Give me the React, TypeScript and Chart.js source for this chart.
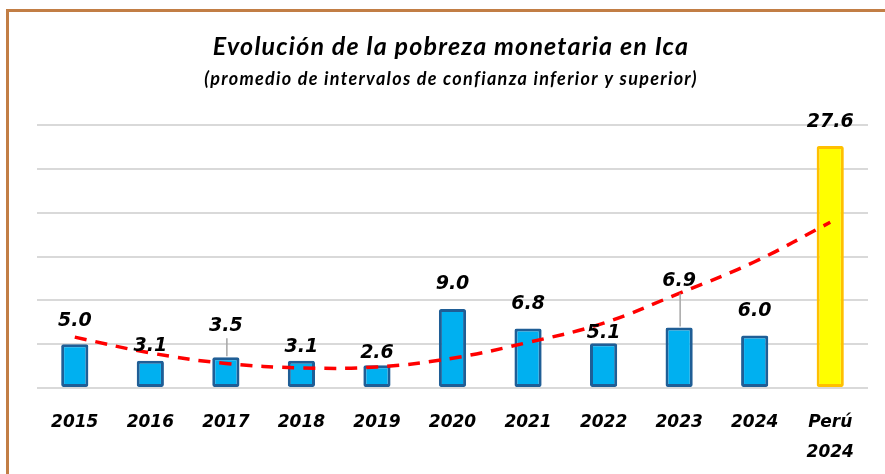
import React, { useEffect, useRef } from "react";
import { Chart, registerables } from "chart.js";

Chart.register(...registerables);

const categories: (string | string[])[] = ["2015", "2016", "2017", "2018", "2019", "2020", "2021", "2022", "2023", "2024", ["Perú", "2024"]];
const povertyValues = [5.0, 3.1, 3.5, 3.1, 2.6, 9.0, 6.8, 5.1, 6.9, 6.0, 27.6];
const trendValues = [5.8, 4.0, 2.8, 2.3, 2.4, 3.4, 5.2, 7.4, 10.8, 14.4, 18.9];
const labelLift = [23, 15, 31, 14, 12, 25, 24, 10, 46, 24, 24];
const titleText = "Evolución de la pobreza monetaria en Ica";
const subtitleText = "(promedio de intervalos de confianza inferior y superior)";

const barFill = povertyValues.map((_, i) => (i === povertyValues.length - 1 ? "#FFFF00" : "#00B0F0"));
const barBorder = povertyValues.map((_, i) => (i === povertyValues.length - 1 ? "#FFC000" : "#1F5E96"));

const labelPlugin = {
  id: "customLabels",
  afterDatasetsDraw(chart: any) {
    const ctx = chart.ctx;
    const meta = chart.getDatasetMeta(0);
    ctx.save();
    meta.data.forEach((bar: any, i: number) => {
      const lift = labelLift[i];
      const y = bar.y - lift;
      if (lift > 28) {
        ctx.strokeStyle = "#A6A6A6";
        ctx.lineWidth = 1.5;
        ctx.beginPath();
        ctx.moveTo(bar.x + 1, y + 12);
        ctx.lineTo(bar.x + 1, bar.y - 1);
        ctx.stroke();
      }
      ctx.fillStyle = "#000";
      ctx.font = "italic bold 19px 'DejaVu Sans'";
      ctx.textAlign = "center";
      ctx.textBaseline = "middle";
      ctx.fillText(povertyValues[i].toFixed(1), bar.x, y);
    });
    ctx.restore();
  },
  afterDraw(chart: any) {
    const ctx = chart.ctx;
    ctx.save();
    ctx.fillStyle = "#000";
    ctx.textAlign = "center";
    ctx.textBaseline = "middle";
    ctx.font = "italic bold 25px Lato";
    (ctx as any).letterSpacing = "1.2px";
    ctx.fillText(titleText, 451, 47);
    ctx.font = "italic bold 18px Lato";
    (ctx as any).letterSpacing = "1.3px";
    ctx.fillText(subtitleText, 451, 79);
    ctx.restore();
  },
};

export default function App() {
  const ref = useRef<HTMLCanvasElement>(null);
  useEffect(() => {
    if (!ref.current) return;
    const chart = new Chart(ref.current, {
      type: "bar",
      data: {
        labels: categories,
        datasets: [
          {
            type: "bar",
            data: povertyValues,
            backgroundColor: barFill,
            borderColor: barBorder,
            borderWidth: 3,
            borderRadius: 2,
            borderSkipped: false,
            barPercentage: 0.36,
            categoryPercentage: 1,
            order: 1,
          },
          {
            type: "line",
            data: trendValues,
            borderColor: "#FF0000",
            borderWidth: 3.5,
            borderDash: [12, 9],
            pointRadius: 0,
            tension: 0.4,
            fill: false,
            order: 0,
          } as any,
        ],
      },
      options: {
        animation: false,
        responsive: false,
        maintainAspectRatio: false,
        layout: { padding: { left: 37, right: 17, top: 125, bottom: 0 } },
        plugins: { legend: { display: false }, tooltip: { enabled: false }, title: { display: false } },
        scales: {
          x: {
            grid: { display: false },
            border: { display: false },
            ticks: {
              color: "#000",
              font: { family: "'DejaVu Sans'", size: 17, weight: "bold", style: "italic", lineHeight: 1.75 },
              padding: 12,
              maxRotation: 0,
              autoSkip: false,
            },
            afterFit: (s: any) => { s.height = 86; },
          },
          y: {
            min: 0,
            max: 30,
            ticks: { display: false, stepSize: 5 },
            border: { display: false },
            grid: { color: "#D9D9D9", lineWidth: 2, drawTicks: false },
            afterFit: (s: any) => { s.width = 0; },
          },
        },
      },
      plugins: [labelPlugin],
    });
    return () => chart.destroy();
  }, []);
  return (
    <div style={{ position: "fixed", left: 0, top: 0, width: 885, height: 474, background: "#fff", overflow: "hidden" }}>
      <div style={{ position: "absolute", left: 6, top: 9, width: 900, height: 500, borderTop: "3px solid #C27E45", borderLeft: "3px solid #C27E45" }} />
      <canvas ref={ref} width={885} height={474} style={{ position: "absolute", left: 0, top: 0 }} />
    </div>
  );
}
